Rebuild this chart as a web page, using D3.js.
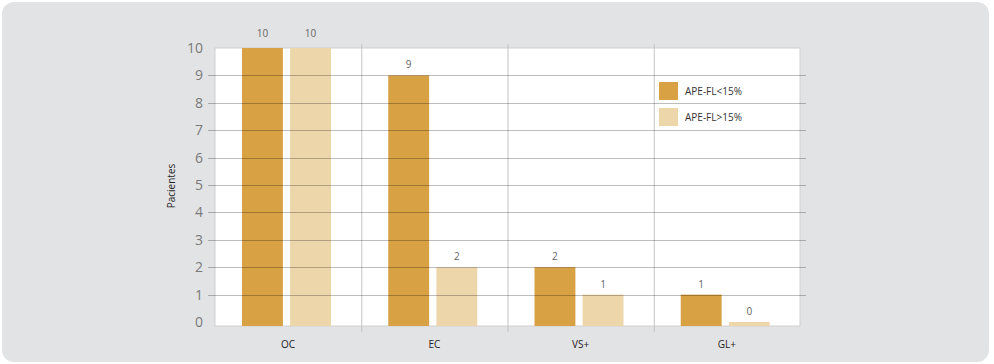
<!DOCTYPE html>
<html>
<head>
<meta charset="utf-8">
<script src="https://cdn.jsdelivr.net/npm/d3@7"></script>
<style>
  html, body { margin: 0; padding: 0; background: #fff; }
  svg { display: block; font-family: "Open Sans", "DejaVu Sans", sans-serif; }
</style>
</head>
<body>
<div id="chart"></div>
<script>
// ── 数据 ──
const categories = ["OC", "EC", "VS+", "GL+"];
const series     = ["APE-FL<15%", "APE-FL>15%"];
const lowValues  = [10, 9, 2, 1];
const highValues = [10, 2, 1, 0];
const yTicks     = [0, 1, 2, 3, 4, 5, 6, 7, 8, 9, 10];
const colors     = ["#d7a144", "#eed6ab"];

const W = 994, H = 364;
const plot = { left: 215, right: 800, top: 48, bottom: 326 };

const svg = d3.select("#chart").append("svg")
  .attr("width", W).attr("height", H);

// 背景面板
svg.append("rect")
  .attr("x", 2).attr("y", 2)
  .attr("width", 987).attr("height", 360)
  .attr("rx", 12)
  .attr("fill", "#e2e3e5");

// plot area
svg.append("rect")
  .attr("x", plot.left).attr("y", plot.top)
  .attr("width", plot.right - plot.left).attr("height", plot.bottom - plot.top)
  .attr("fill", "#fff")
  .attr("stroke", "#d0d0d0");

const x0 = d3.scaleBand().domain(categories).range([plot.left, plot.right]);
const x1 = d3.scaleBand().domain(series).range([27, 116]).paddingInner(0.15);
const y  = d3.scaleLinear().domain([0, 10]).range([322, 48]);

// 类别分隔线（含上下小刻度）
svg.append("g")
  .selectAll("line")
  .data(categories.slice(1))
  .join("line")
  .attr("x1", (d) => x0(d) + 0.5).attr("x2", (d) => x0(d) + 0.5)
  .attr("y1", plot.top - 4).attr("y2", plot.bottom + 6)
  .attr("stroke", "#c4c4c4");

const rows = categories.map((c, i) => ({ cat: c, values: [lowValues[i], highValues[i]] }));

// ── 柱子 ──
const group = svg.append("g")
  .selectAll("g")
  .data(rows)
  .join("g")
  .attr("transform", (d) => `translate(${x0(d.cat)},0)`);

group.selectAll("rect")
  .data((d) => d.values.map((v, j) => ({ key: series[j], v, j })))
  .join("rect")
  .attr("x", (d) => x1(d.key))
  .attr("width", x1.bandwidth())
  .attr("y", (d) => y(d.v))
  .attr("height", (d) => plot.bottom - y(d.v))
  .attr("fill", (d) => colors[d.j]);

// 网格线（画在柱子上方，半透明）
svg.append("g")
  .selectAll("line")
  .data(yTicks.filter((t) => t > 0 && t < 10))
  .join("line")
  .attr("x1", plot.left - 7).attr("x2", plot.right + 6)
  .attr("y1", (d) => Math.round(y(d)) + 0.5).attr("y2", (d) => Math.round(y(d)) + 0.5)
  .attr("stroke", "rgba(0,0,0,0.26)");

// 数值标签
group.selectAll("text")
  .data((d) => d.values.map((v, j) => ({ key: series[j], v, j })))
  .join("text")
  .attr("x", (d) => x1(d.key) + x1.bandwidth() / 2)
  .attr("y", (d) => y(d.v) - (d.v === 10 ? 11 : 7))
  .attr("text-anchor", "middle")
  .attr("font-size", 10)
  .attr("fill", "#666")
  .text((d) => d.v);

// y 轴刻度标签
svg.append("g")
  .selectAll("text")
  .data(yTicks)
  .join("text")
  .attr("x", 203)
  .attr("y", (d) => y(d))
  .attr("dy", "0.35em")
  .attr("text-anchor", "end")
  .attr("font-size", 14)
  .attr("fill", "#7a7a7a")
  .text((d) => d);

// x 轴类别标签
svg.append("g")
  .selectAll("text")
  .data(categories)
  .join("text")
  .attr("x", (d) => x0(d) + x0.bandwidth() / 2)
  .attr("y", 344)
  .attr("dy", "0.35em")
  .attr("text-anchor", "middle")
  .attr("font-size", 10)
  .attr("fill", "#222")
  .text((d) => d);

// y 轴标题
svg.append("text")
  .attr("transform", "translate(175,186) rotate(-90)")
  .attr("text-anchor", "middle")
  .attr("font-size", 10)
  .attr("fill", "#222")
  .text("Pacientes");

// ── 图例 ──
const legend = svg.append("g")
  .selectAll("g")
  .data(series)
  .join("g")
  .attr("transform", (d, i) => `translate(659,${82 + i * 26})`);

legend.append("rect")
  .attr("width", 19).attr("height", 18)
  .attr("fill", (d, i) => colors[i]);

legend.append("text")
  .attr("x", 26).attr("y", 9)
  .attr("dy", "0.35em")
  .attr("font-size", 10)
  .attr("fill", "#333")
  .text((d) => d);
</script>
</body>
</html>
